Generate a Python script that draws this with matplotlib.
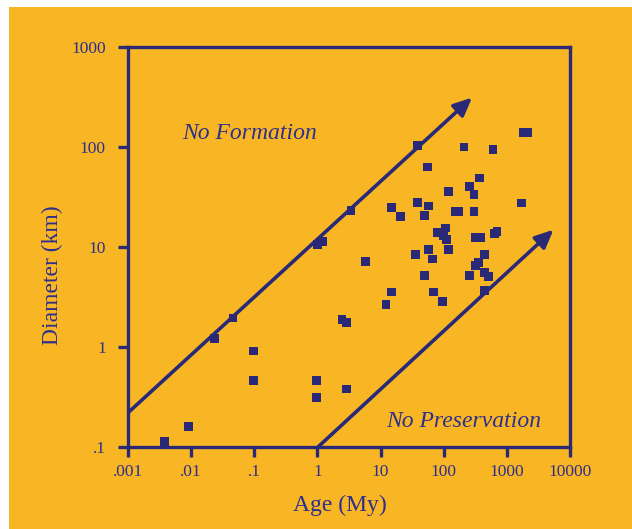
import matplotlib
matplotlib.use("Agg")
import matplotlib.pyplot as plt
from matplotlib.patches import Rectangle, FancyArrowPatch

# ---- data ----
age_my = [0.0038, 0.0091, 0.0237, 0.046, 0.096, 0.096, 0.98, 0.98, 2.9, 2.45, 2.9,
          1.2, 1.0, 3.4, 38, 5.7, 12.2, 14.8, 14.8, 20.7, 35.6, 38, 49, 49, 57, 55,
          57, 66, 69, 78, 97, 100, 107, 110, 119, 119, 151, 175, 209, 253, 253, 302,
          302, 316, 366, 388, 320, 360, 437, 437, 505, 437, 603, 630, 700, 1714,
          1800, 2100]
diameter_km = [0.113, 0.159, 1.22, 1.95, 0.91, 0.46, 0.46, 0.31, 0.38, 1.87, 1.76,
               11.3, 10.5, 23, 104, 7.1, 2.66, 3.54, 25, 20.2, 8.4, 28, 5.2, 20.7, 25.7, 63,
               9.5, 7.6, 3.54, 14, 2.83, 13, 15.5, 11.9, 9.5, 36, 22.8, 22.8, 100, 5.2,
               40, 33.5, 22.8, 12.5, 49, 12.5, 6.5, 7.0, 8.4, 5.6, 5.1, 3.7, 94, 13.7,
               14.2, 27.6, 140, 140]

x_ticks = [0.001, 0.01, 0.1, 1, 10, 100, 1000, 10000]
x_tick_labels = [".001", ".01", ".1", "1", "10", "100", "1000", "10000"]
y_ticks = [0.1, 1, 10, 100, 1000]
y_tick_labels = [".1", "1", "10", "100", "1000"]

formation_arrow_x = [0.001, 281]
formation_arrow_y = [0.22, 312]
preservation_arrow_x = [1.02, 5480]
preservation_arrow_y = [0.1, 14.9]

ORANGE = "#F8B624"
NAVY = "#2A2977"
TEXT = "#2E2F8C"
SERIF = ["Liberation Serif", "DejaVu Serif"]

W, H = 632, 529
fig = plt.figure(figsize=(W / 100, H / 100), dpi=100, facecolor="white")
fig.patches.append(Rectangle((9 / W, 0), 1 - 9 / W, 1 - 7 / H, transform=fig.transFigure,
                             facecolor=ORANGE, edgecolor="none", zorder=-10))

ax = fig.add_axes([128 / W, (H - 447) / H, (570 - 128) / W, (447 - 47) / H])
ax.set_facecolor(ORANGE)
ax.set_xscale("log")
ax.set_yscale("log")
ax.set_xlim(0.001, 10000)
ax.set_ylim(0.1, 1000)

for s in ax.spines.values():
    s.set_color(NAVY)
    s.set_linewidth(2.4)

ax.set_xticks(x_ticks)
ax.set_xticklabels(x_tick_labels)
ax.set_yticks(y_ticks)
ax.set_yticklabels(y_tick_labels)
ax.minorticks_off()
ax.tick_params(axis="both", which="major", direction="out", length=7, width=2.4,
               color=NAVY, labelcolor=TEXT, labelsize=12.5)
ax.tick_params(axis="y", pad=9)
ax.tick_params(axis="x", pad=5)
for lab in ax.get_xticklabels() + ax.get_yticklabels():
    lab.set_family(SERIF)

ax.set_xlabel("Age (My)", fontsize=17, color=TEXT, family=SERIF, labelpad=11, x=0.48)
ax.set_ylabel("Diameter (km)", fontsize=17, color=TEXT, family=SERIF, labelpad=6, y=0.43)

ax.scatter(age_my, diameter_km, marker="s", s=40, color=NAVY, edgecolors="none",
           zorder=3, clip_on=True)

for xs, ys in [(formation_arrow_x, formation_arrow_y),
               (preservation_arrow_x, preservation_arrow_y)]:
    arr = FancyArrowPatch((xs[0], ys[0]), (xs[1], ys[1]),
                          arrowstyle="-|>,head_length=11,head_width=5",
                          mutation_scale=1, color=NAVY, linewidth=2.6,
                          shrinkA=0, shrinkB=0, zorder=2)
    ax.add_patch(arr)

ax.text(0.0071, 138, "No Formation", fontsize=17, style="italic", color=TEXT,
        family=SERIF, ha="left", va="center")
ax.text(12.3, 0.18, "No Preservation", fontsize=17, style="italic", color=TEXT,
        family=SERIF, ha="left", va="center")

fig.savefig("out.png", dpi=100, facecolor="white")
